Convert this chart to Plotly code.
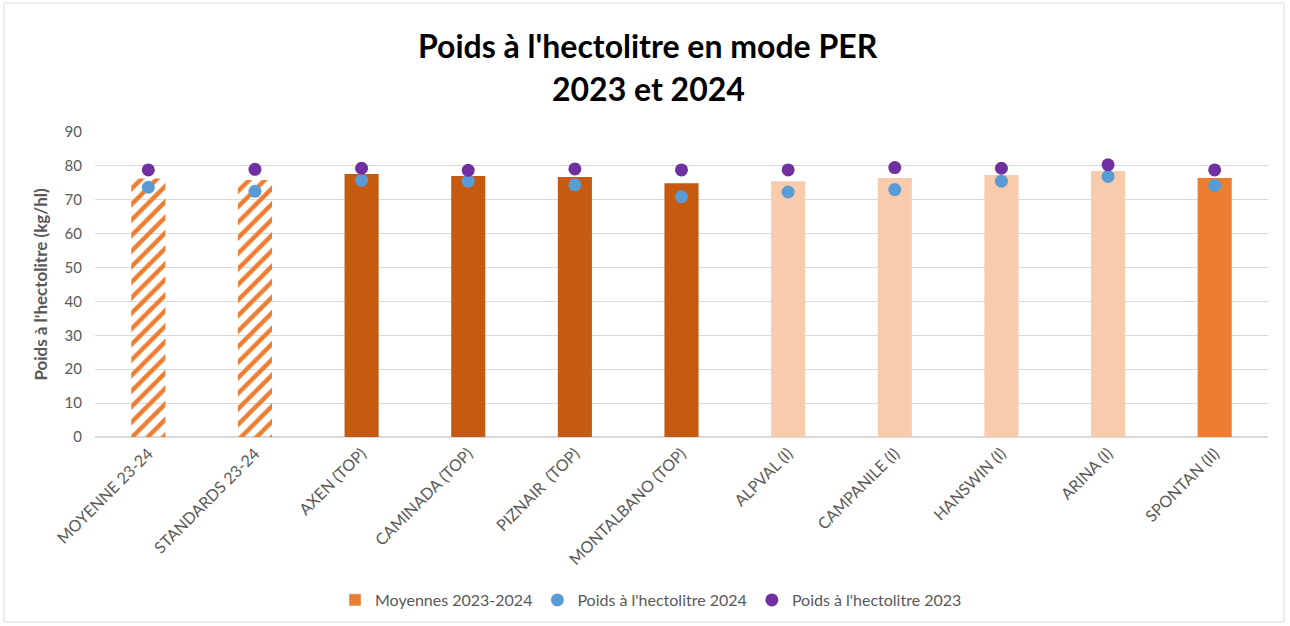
import plotly.graph_objects as go

categories = ["MOYENNE 23-24", "STANDARDS 23-24", "AXEN (TOP)", "CAMINADA (TOP)",
              "PIZNAIR  (TOP)", "MONTALBANO (TOP)", "ALPVAL (I)", "CAMPANILE (I)",
              "HANSWIN (I)", "ARINA (I)", "SPONTAN (II)"]
moyennes = [76.3, 75.8, 77.6, 77.0, 76.7, 74.9, 75.5, 76.4, 77.3, 78.5, 76.4]
poids_2024 = [73.7, 72.5, 75.7, 75.5, 74.4, 70.9, 72.3, 73.0, 75.5, 76.9, 74.2]
poids_2023 = [78.8, 79.0, 79.3, 78.7, 79.1, 78.8, 78.8, 79.5, 79.3, 80.3, 78.8]
title_lines = ["Poids à l'hectolitre en mode PER", "2023 et 2024"]

bar_colors = ["#ED7D31", "#ED7D31", "#C55A11", "#C55A11", "#C55A11", "#C55A11",
              "#F8CBAD", "#F8CBAD", "#F8CBAD", "#F8CBAD", "#ED7D31"]
bar_patterns = ["/", "/", "", "", "", "", "", "", "", "", ""]

FONT = "Lato"
GREY = "#595959"

fig = go.Figure()
fig.add_trace(go.Bar(
    x=categories, y=moyennes, name="Moyennes 2023-2024", showlegend=False,
    marker=dict(color=bar_colors, line=dict(width=0),
                pattern=dict(shape=bar_patterns, size=11, solidity=0.4, fillmode="replace")),
))
# legend entry (solid square like the reference)
fig.add_trace(go.Bar(
    x=[categories[0]], y=[None], name="Moyennes 2023-2024",
    marker=dict(color="#ED7D31"), showlegend=True,
))
fig.add_trace(go.Scatter(
    x=categories, y=poids_2024, mode="markers", name="Poids à l'hectolitre 2024",
    marker=dict(color="#5B9BD5", size=13, line=dict(width=0)),
))
fig.add_trace(go.Scatter(
    x=categories, y=poids_2023, mode="markers", name="Poids à l'hectolitre 2023",
    marker=dict(color="#7030A0", size=13, line=dict(width=0)),
))

L, R, T, B = 95, 22, 132, 189
W, H = 1290, 626
pw = W - L - R
ph = H - T - B

def px_x(p):
    return (p - L) / pw

def px_y(p):
    return (H - B - p) / ph

annotations = [
    dict(text="<b>" + title_lines[0] + "</b>", xref="paper", yref="paper",
         x=px_x(648), y=px_y(45), xanchor="center", yanchor="middle", showarrow=False,
         font=dict(family=FONT, size=32, color="black")),
    dict(text="<b>" + title_lines[1] + "</b>", xref="paper", yref="paper",
         x=px_x(648), y=px_y(88), xanchor="center", yanchor="middle", showarrow=False,
         font=dict(family=FONT, size=32, color="black")),
]

fig.update_layout(
    width=W, height=H,
    margin=dict(l=L, r=R, t=T, b=B, autoexpand=False),
    paper_bgcolor="white", plot_bgcolor="white",
    font=dict(family=FONT, color=GREY),
    barmode="overlay", bargap=0.68,
    annotations=annotations,
    xaxis=dict(tickangle=-45, tickfont=dict(size=16, color=GREY), automargin=False,
               range=[-0.5, len(categories) - 0.5],
               showgrid=False, showline=True, linecolor="#D9D9D9", linewidth=1,
               ticks=""),
    yaxis=dict(range=[0, 90], dtick=10, tickfont=dict(size=15, color=GREY), automargin=False,
               gridcolor="#D9D9D9", zeroline=True, zerolinecolor="#D9D9D9",
               showline=False, ticks="", ticklabelstandoff=12,
               title=dict(text="<b>Poids à l'hectolitre (kg/hl)</b>",
                          font=dict(size=17, color=GREY), standoff=12)),
    legend=dict(orientation="h", x=px_x(651), xanchor="center", y=px_y(600), yanchor="middle",
                font=dict(size=16, color=GREY), traceorder="normal",
                itemwidth=30),
    shapes=[dict(type="rect", xref="paper", yref="paper",
                 x0=px_x(4), x1=px_x(1284), y0=px_y(622), y1=px_y(3),
                 line=dict(color="#D9D9D9", width=1), fillcolor="rgba(0,0,0,0)",
                 layer="below")],
)

fig.write_html("out.html", config={"displayModeBar": False},
               post_script="document.body.style.margin='0';")
